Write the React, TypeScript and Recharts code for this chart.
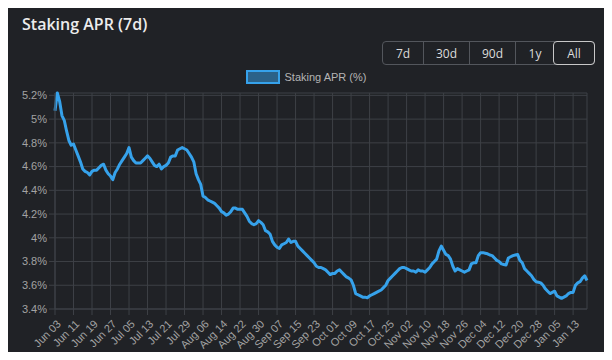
import React from 'react';
import { LineChart, Line, XAxis, YAxis, CartesianGrid } from 'recharts';

// daily 7d staking APR (%), starting Jun 03
const aprValues = [
  5.07, 5.22, 5.15, 5.03, 4.99, 4.90, 4.82, 4.78, 4.79, 4.74,
  4.69, 4.64, 4.58, 4.56, 4.55, 4.53, 4.56, 4.57, 4.57, 4.59,
  4.61, 4.62, 4.57, 4.54, 4.52, 4.49, 4.55, 4.58, 4.62, 4.65,
  4.68, 4.71, 4.76, 4.68, 4.65, 4.63, 4.63, 4.63, 4.65, 4.67,
  4.69, 4.67, 4.64, 4.61, 4.60, 4.62, 4.58, 4.60, 4.61, 4.63,
  4.68, 4.69, 4.69, 4.74, 4.75, 4.76, 4.75, 4.74, 4.71, 4.68,
  4.64, 4.54, 4.49, 4.45, 4.35, 4.34, 4.32, 4.31, 4.30, 4.29,
  4.27, 4.25, 4.22, 4.21, 4.19, 4.20, 4.22, 4.25, 4.25, 4.24,
  4.24, 4.24, 4.21, 4.18, 4.14, 4.12, 4.11, 4.12, 4.145, 4.13,
  4.11, 4.06, 4.05, 4.03, 3.97, 3.94, 3.92, 3.91, 3.94, 3.95,
  3.96, 3.99, 3.96, 3.97, 3.97, 3.93, 3.91, 3.89, 3.87, 3.85,
  3.83, 3.81, 3.79, 3.76, 3.75, 3.75, 3.74, 3.73, 3.71, 3.69,
  3.70, 3.70, 3.72, 3.73, 3.71, 3.69, 3.67, 3.66, 3.645, 3.60,
  3.53, 3.52, 3.51, 3.50, 3.50, 3.495, 3.51, 3.52, 3.53, 3.54,
  3.55, 3.56, 3.58, 3.60, 3.64, 3.66, 3.68, 3.70, 3.72, 3.74,
  3.75, 3.75, 3.74, 3.73, 3.72, 3.72, 3.71, 3.73, 3.72, 3.72,
  3.71, 3.73, 3.75, 3.78, 3.80, 3.82, 3.89, 3.93, 3.895, 3.86,
  3.85, 3.82, 3.76, 3.72, 3.74, 3.73, 3.72, 3.71, 3.72, 3.73,
  3.78, 3.79, 3.79, 3.85, 3.875, 3.875, 3.87, 3.865, 3.855, 3.85,
  3.83, 3.81, 3.80, 3.78, 3.775, 3.77, 3.83, 3.84, 3.85, 3.855,
  3.86, 3.81, 3.79, 3.74, 3.72, 3.70, 3.68, 3.65, 3.63, 3.625,
  3.62, 3.60, 3.57, 3.55, 3.53, 3.54, 3.55, 3.51, 3.50, 3.49,
  3.50, 3.51, 3.53, 3.54, 3.54, 3.60, 3.62, 3.63, 3.66, 3.68,
  3.64,
];

const monthNames = ['Jan', 'Feb', 'Mar', 'Apr', 'May', 'Jun', 'Jul', 'Aug', 'Sep', 'Oct', 'Nov', 'Dec'];
const startDay = Date.UTC(2023, 5, 3);
const dateLabels = aprValues.map((_, i) => {
  const d = new Date(startDay + i * 86400000);
  return `${monthNames[d.getUTCMonth()]} ${String(d.getUTCDate()).padStart(2, '0')}`;
});

const yTicks = [3.4, 3.6, 3.8, 4, 4.2, 4.4, 4.6, 4.8, 5, 5.2];
const ranges = [
  { label: '7d', w: 40 },
  { label: '30d', w: 45 },
  { label: '90d', w: 45 },
  { label: '1y', w: 38 },
  { label: 'All', w: 40 },
];

const chartData = aprValues.map((v, i) => ({ date: dateLabels[i], apr: v }));

const GRID = '#3d4046';
const TEXT = '#a3a3a3';
const BLUE = '#36a2eb';
const FONT = '"Liberation Sans", Arial, sans-serif';

const XTick = ({ x, y, payload }: any) => (
  <g transform={`translate(${x + 1},${y + 2})`}>
    <text
      textAnchor="end"
      transform="rotate(-45)"
      fill={TEXT}
      fontSize={11}
      fontFamily={FONT}
      dy={8}
    >
      {payload.value}
    </text>
  </g>
);

export default function App() {
  return (
    <div style={{ position: 'relative', width: 612, height: 360, background: '#f2f2f2', margin: -8 }}>
      <div
        style={{
          position: 'absolute',
          left: 0,
          top: 2,
          width: 612,
          height: 358,
          background: '#202226',
          borderRadius: 7,
        }}
      />
      <div
        style={{
          position: 'absolute',
          left: 22,
          top: 13,
          color: '#ececec',
          fontFamily: '"Open Sans", sans-serif',
          fontWeight: 600,
          fontSize: 16,
        }}
      >
        Staking APR (7d)
      </div>
      <div
        style={{
          position: 'absolute',
          left: 382,
          top: 41,
          height: 22,
          display: 'flex',
          border: '1px solid #53565c',
          borderRadius: 4,
          fontFamily: '"Open Sans", sans-serif',
          fontSize: 12,
          color: '#dcdcdc',
        }}
      >
        {ranges.map((r, i) => (
          <div
            key={r.label}
            style={{
              width: r.w,
              display: 'flex',
              alignItems: 'center',
              justifyContent: 'center',
              borderLeft: i > 0 && i < ranges.length - 1 ? '1px solid #53565c' : 'none',
              ...(r.label === 'All'
                ? { border: '1px solid #c8c8c8', borderRadius: 4, margin: -1, height: 22 }
                : {}),
            }}
          >
            {r.label}
          </div>
        ))}
      </div>
      <div
        style={{
          position: 'absolute',
          left: 0,
          top: 70,
          width: 612,
          display: 'flex',
          alignItems: 'center',
          justifyContent: 'center',
          fontFamily: FONT,
        }}
      >
        <span
          style={{
            width: 30,
            height: 10,
            background: 'rgba(54,162,235,0.5)',
            border: `2px solid ${BLUE}`,
            marginRight: 5,
          }}
        />
        <span style={{ color: '#b5b5b5', fontSize: 11 }}>Staking APR (%)</span>
      </div>
      <div style={{ position: 'absolute', left: 0, top: 0 }}>
        <LineChart
          width={612}
          height={360}
          data={chartData}
          margin={{ top: 93, right: 25, left: 8, bottom: 0 }}
        >
          <CartesianGrid stroke={GRID} strokeWidth={1} />
          <XAxis
            dataKey="date"
            interval={7}
            height={51}
            tick={<XTick />}
            tickSize={6}
            tickLine={{ stroke: GRID }}
            axisLine={{ stroke: GRID }}
          />
          <YAxis
            domain={[3.4, 5.2]}
            ticks={yTicks}
            width={47}
            tickSize={6}
            tickLine={{ stroke: GRID }}
            axisLine={{ stroke: GRID }}
            tickFormatter={(v: number) => `${v}%`}
            tick={{ fill: TEXT, fontSize: 11, fontFamily: FONT }}
          />
          <Line
            type="linear"
            dataKey="apr"
            stroke={BLUE}
            strokeWidth={3}
            strokeLinejoin="round"
            dot={false}
            isAnimationActive={false}
          />
        </LineChart>
      </div>
    </div>
  );
}
